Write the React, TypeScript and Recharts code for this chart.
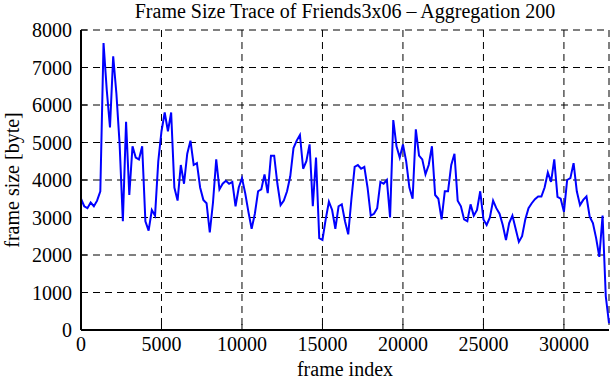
import { LineChart, Line, XAxis, YAxis, CartesianGrid } from 'recharts';

// one value per 200 frames (aggregation 200)
const AGGREGATION = 200;

const frameSizes = [
  3500, 3300, 3250, 3400, 3300, 3450, 3700, 7650, 6400, 5400,
  7300, 6300, 4950, 2900, 5550, 3600, 4900, 4600, 4550, 4900,
  2900, 2650, 3200, 3050, 4500, 5300, 5800, 5300, 5800, 3800,
  3450, 4400, 3900, 4700, 5050, 4400, 4450, 3800, 3470, 3380,
  2600, 3400, 4550, 3750, 3900, 3980, 3900, 3950, 3300, 3800,
  4050, 3650, 3150, 2700, 3100, 3700, 3750, 4150, 3650, 4650,
  4650, 3900, 3330, 3450, 3700, 4100, 4850, 5050, 5200, 4300,
  4500, 4950, 3300, 4600, 2450, 2400, 2950, 3420, 3200, 2700,
  3300, 3350, 2900, 2550, 3500, 4350, 4400, 4300, 4350, 3800,
  3050, 3100, 3250, 3950, 3900, 4000, 3000, 5600, 4900, 4600,
  4950, 4500, 3800, 3500, 5350, 4650, 4550, 4150, 4400, 4900,
  3600, 3500, 2950, 3700, 3700, 4400, 4700, 3450, 3300, 2950,
  2900, 3350, 3050, 3200, 3700, 2950, 2800, 3000, 3450, 3250,
  3100, 2800, 2400, 2850, 3050, 2700, 2350, 2500, 2950, 3250,
  3380, 3490, 3560, 3560, 3800, 4200, 3950, 4550, 3550, 3500,
  3150, 4000, 4050, 4450, 3700, 3330, 3470, 3560, 3020, 2850,
  2450, 1950, 3050, 900, 180,
];

const xTicks = [0, 5000, 10000, 15000, 20000, 25000, 30000];
const yTicks = [0, 1000, 2000, 3000, 4000, 5000, 6000, 7000, 8000];

const data = frameSizes.map((size, i) => ({ frame: i * AGGREGATION, size }));
const xMax = (frameSizes.length - 1) * AGGREGATION;

const FONT = '"Liberation Serif", "DejaVu Serif", serif';
const tickStyle = { fill: '#000', fontSize: 20, fontFamily: FONT };
const border = { stroke: '#000', strokeWidth: 2 };

export default function App() {
  return (
    <div style={{ position: 'absolute', left: 0, top: 0, width: 611, height: 380, background: '#fff' }}>
      <div
        style={{
          position: 'absolute', left: 81, top: -1, width: 528, textAlign: 'center',
          fontFamily: FONT, fontSize: 20, lineHeight: '24px', color: '#000',
        }}
      >
        Frame Size Trace of Friends3x06 – Aggregation 200
      </div>
      <LineChart width={611} height={380} data={data} margin={{ top: 30, right: 2, bottom: 0, left: 0 }}>
        <CartesianGrid stroke="#000" strokeDasharray="7 5" />
        <XAxis
          dataKey="frame" type="number" domain={[0, xMax]} ticks={xTicks} height={50}
          tick={tickStyle} tickSize={-6} tickMargin={13}
          axisLine={border} tickLine={{ stroke: '#000' }}
          label={{ value: 'frame index', position: 'insideBottom', offset: 4, style: tickStyle }}
        />
        <XAxis
          xAxisId="top" orientation="top" dataKey="frame" type="number" domain={[0, xMax]}
          ticks={xTicks} height={0} tick={false} tickSize={-6}
          axisLine={border} tickLine={{ stroke: '#000' }}
        />
        <YAxis
          type="number" domain={[0, 8000]} ticks={yTicks} width={81}
          tick={tickStyle} tickSize={-6} tickMargin={15}
          axisLine={border} tickLine={{ stroke: '#000' }}
          label={{ value: 'frame size [byte]', angle: -90, position: 'insideLeft', offset: 12, style: { ...tickStyle, textAnchor: 'middle' } }}
        />
        <YAxis
          yAxisId="right" orientation="right" type="number" domain={[0, 8000]} ticks={yTicks}
          width={0} tick={false} tickSize={-6}
          axisLine={border} tickLine={{ stroke: '#000' }}
        />
        <Line
          dataKey="size" type="linear" stroke="#0000ff" strokeWidth={2}
          dot={false} isAnimationActive={false}
        />
      </LineChart>
    </div>
  );
}
